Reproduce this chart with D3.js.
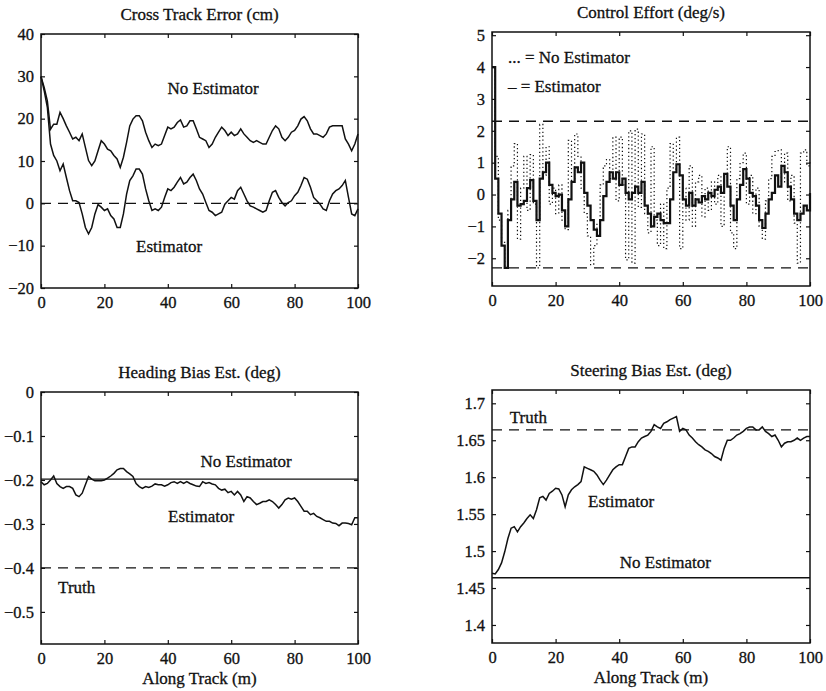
<!DOCTYPE html>
<html>
<head>
<meta charset="utf-8">
<script src="https://cdn.jsdelivr.net/npm/d3@7"></script>
<style>
body { margin: 0; background: #fff; }
svg text { font-family: "Liberation Serif", "Times New Roman", serif !important; fill: #111; stroke: #111; stroke-width: 0.3px; }
.tick text { font-size: 16.5px; }
.tick line { stroke: #111; stroke-width: 1.2; }
</style>
</head>
<body>
<svg id="chart" width="826" height="691"></svg>
<script>
// along track position (m), one sample per metre
var trackPos = [0,1,2,3,4,5,6,7,8,9,10,11,12,13,14,15,16,17,18,19,20,21,22,23,24,25,26,27,28,29,30,31,32,33,34,35,36,37,38,39,40,41,42,43,44,45,46,47,48,49,50,51,52,53,54,55,56,57,58,59,60,61,62,63,64,65,66,67,68,69,70,71,72,73,74,75,76,77,78,79,80,81,82,83,84,85,86,87,88,89,90,91,92,93,94,95,96,97,98,99,100];

// cross track error (cm)
var xteNoEst = [29.9,27.4,24.2,17.5,18.7,18.7,21.5,20,18.3,16.8,15.2,15.6,14.8,16.4,13.2,10.1,8.9,10,12.4,14.8,14,12.8,12.4,11.3,10.5,8.5,10.9,14.4,18.3,19.9,20.7,20.7,19.5,16.8,14.8,13.2,14,13.6,14,16,18,17.6,18,19.1,19.7,18,18.3,19.5,19.5,17.6,15.6,15.2,14.8,13.2,14,15.6,16.8,18,17.2,16,16.8,16,16.4,17.6,16.4,15.6,14.8,14.4,14.8,14.4,14,14,15.6,17.2,18.3,17.6,15.6,14.8,15.6,16.8,17.2,18.3,19.9,20.5,19.5,17.6,16.4,16.4,16,15.6,16.4,18,18.3,18.3,18.3,18.3,15.2,14,12.4,14,16.4];
var xteEst = [30,26.6,22.7,14,11.3,10,7.7,9.3,6.1,3,0.6,0.6,0.2,-2.5,-5.7,-7.2,-5.7,-2.5,-0.3,-0.9,-1.7,-1.3,-2.9,-3.7,-5.7,-5.7,-2.5,2.2,5.4,6.5,8.1,8.1,6.9,3.4,0.6,-1.7,-1.3,-1.7,-0.9,1.4,3.4,3,3.8,5,6.1,4.6,5,6.1,6.9,5.4,3.4,2.2,0.2,-1.7,-2.1,-2.9,-2.5,-2.1,-0.2,0.6,1.4,1,3,3.8,2.2,0.6,-0.6,-0.9,-1.3,-1.7,-2.1,-1.7,0.6,2.6,3,1.4,0.2,-0.6,0.2,0.6,1.8,2.6,4.2,6.1,5.7,3.8,1.4,0.6,-0.2,-1.3,-1.7,0.6,2.2,3,3.4,4.2,5.4,1.4,-2.5,-2.9,-1.3];
var xteRef = 0;

// control effort (deg/s)
var ceNoEst = [4,1.2,-0.8,-1.5,-2.3,-0.5,0.9,1.6,-1.4,0.2,1.2,-0.5,1.25,-0.3,-2.3,2.2,0.6,1.5,-0.3,0.2,-0.6,0.3,-0.8,-1.1,1.7,0.4,1.9,1.2,0.2,-0.6,-1.3,-2.2,-1.6,-0.9,0.3,0.9,1.1,0.5,1.8,-0.2,1.8,0.3,-2.05,2,-2.15,2.05,-0.4,1.9,-0.6,-1.2,1.5,-0.8,-1.6,-0.3,-1.7,0.2,1.6,0.8,1.8,-1.7,0.2,-0.8,0.9,-1,0.4,0.6,-0.7,0.2,-0.5,0.4,-0.3,0.6,-1,0.4,1.5,-1.2,-1.7,0.5,1,1.3,-0.3,0.6,-0.6,0.2,-1,-1.4,-0.2,0.5,1.2,1.35,1.4,0.4,1.3,-0.2,0.6,-0.9,-2.15,1.3,1.4,0.9,1.1];
var ceEst = [4,0.5,-0.6,-1.6,-2.3,-0.8,-0.15,0.4,-0.35,-0.3,-0.2,0.2,0.45,-0.2,-0.8,0.5,0.7,1,0.3,0.05,-0.05,0,-0.5,-1,-0.15,0.4,0.85,0.7,1,0.05,-0.35,-0.8,-1.1,-1.3,-0.8,-0.05,0.4,0.7,0.5,0.7,0.3,0.5,0.05,-0.15,0.05,0.25,0.05,0.4,-0.35,-0.6,-1,-0.7,-0.6,-0.8,-0.9,-0.9,-0.15,0.7,0.95,0.6,-0.15,-0.35,0.05,-0.35,-0.15,-0.25,-0.05,-0.15,0.05,-0.05,0.15,0.25,0.05,0.65,0.25,-0.35,-0.8,-0.15,0.3,0.8,0.5,0.05,-0.05,-0.35,-0.8,-1.05,-0.6,-0.15,0.05,0.6,0.25,0.9,0.7,0.25,-0.15,-0.6,-0.8,-0.6,-0.35,-0.5,0.05];
var ceLimits = [2.3, -2.3];

// heading bias estimate (deg)
var headEst = [-0.204,-0.211,-0.208,-0.2,-0.191,-0.208,-0.215,-0.219,-0.215,-0.215,-0.219,-0.234,-0.238,-0.23,-0.211,-0.192,-0.198,-0.202,-0.202,-0.202,-0.2,-0.196,-0.191,-0.185,-0.177,-0.174,-0.174,-0.181,-0.186,-0.192,-0.208,-0.215,-0.219,-0.215,-0.217,-0.214,-0.209,-0.211,-0.211,-0.214,-0.211,-0.206,-0.204,-0.208,-0.204,-0.208,-0.204,-0.208,-0.211,-0.214,-0.215,-0.204,-0.208,-0.206,-0.209,-0.211,-0.219,-0.223,-0.221,-0.229,-0.226,-0.234,-0.226,-0.234,-0.249,-0.238,-0.241,-0.249,-0.256,-0.253,-0.249,-0.249,-0.245,-0.249,-0.256,-0.264,-0.256,-0.245,-0.241,-0.244,-0.241,-0.249,-0.26,-0.271,-0.271,-0.279,-0.276,-0.283,-0.286,-0.29,-0.294,-0.294,-0.298,-0.299,-0.304,-0.298,-0.298,-0.299,-0.302,-0.286,-0.286];
var headNoEst = -0.198;
var headTruth = -0.4;

// steering bias estimate (deg)
var steerEst = [1.47,1.469,1.475,1.484,1.499,1.517,1.531,1.533,1.526,1.533,1.538,1.544,1.549,1.544,1.556,1.572,1.574,1.569,1.578,1.581,1.585,1.584,1.576,1.56,1.576,1.583,1.587,1.59,1.594,1.614,1.612,1.61,1.608,1.603,1.596,1.59,1.596,1.603,1.61,1.614,1.617,1.617,1.628,1.639,1.641,1.641,1.648,1.653,1.655,1.657,1.662,1.671,1.668,1.666,1.673,1.675,1.678,1.68,1.682,1.662,1.666,1.664,1.657,1.653,1.648,1.644,1.641,1.637,1.635,1.632,1.628,1.626,1.623,1.639,1.65,1.65,1.653,1.657,1.659,1.662,1.666,1.668,1.668,1.664,1.664,1.668,1.662,1.659,1.655,1.657,1.65,1.641,1.646,1.648,1.648,1.65,1.653,1.65,1.653,1.655,1.655];
var steerNoEst = 1.464;
var steerTruth = 1.664;

// tick labels
var xTicks = [0, 20, 40, 60, 80, 100];
var xteTicks = [-20, -10, 0, 10, 20, 30, 40];
var ceTicks = [-2, -1, 0, 1, 2, 3, 4, 5];
var headTicks = [-0.5, -0.4, -0.3, -0.2, -0.1, 0];
var steerTicks = [1.4, 1.45, 1.5, 1.55, 1.6, 1.65, 1.7];

var svg = d3.select("#chart");
var fmt = d3.format("~g");

function drawPanel(p) {
    var x = d3.scaleLinear().domain([0, 100]).range([p.left, p.right]);
    var y = d3.scaleLinear().domain(p.yDomain).range([p.bottom, p.top]);
    var g = svg.append("g");

    // inward ticks on all four sides, like the matlab box
    g.append("g").attr("transform", "translate(0," + p.bottom + ")")
        .call(d3.axisBottom(x).tickValues(xTicks).tickSize(-4).tickSizeOuter(0).tickPadding(8).tickFormat(fmt));
    g.append("g").attr("transform", "translate(0," + p.top + ")")
        .call(d3.axisTop(x).tickValues(xTicks).tickSize(-4).tickSizeOuter(0).tickFormat(""));
    g.append("g").attr("transform", "translate(" + p.left + ",0)")
        .call(d3.axisLeft(y).tickValues(p.yTicks).tickSize(-4).tickSizeOuter(0).tickPadding(7).tickFormat(fmt));
    g.append("g").attr("transform", "translate(" + p.right + ",0)")
        .call(d3.axisRight(y).tickValues(p.yTicks).tickSize(-4).tickSizeOuter(0).tickFormat(""));
    g.selectAll(".domain").remove();

    g.append("rect")
        .attr("x", p.left).attr("y", p.top)
        .attr("width", p.right - p.left).attr("height", p.bottom - p.top)
        .attr("fill", "none").attr("stroke", "#111").attr("stroke-width", 1.5);

    p.refs.forEach(function(r) {
        g.append("line")
            .attr("x1", x(0)).attr("x2", x(100))
            .attr("y1", y(r.value)).attr("y2", y(r.value))
            .attr("stroke", "#111").attr("stroke-width", 1.4)
            .attr("stroke-dasharray", r.dashed ? "10,7" : null);
    });

    p.series.forEach(function(s) {
        var line = d3.line()
            .x(function(d, i) { return x(trackPos[i]); })
            .y(function(d) { return y(d); })
            .curve(s.step ? d3.curveStepAfter : d3.curveLinear);
        g.append("path")
            .datum(s.values)
            .attr("d", line)
            .attr("fill", "none")
            .attr("stroke", "#111")
            .attr("stroke-width", s.width || 1.5)
            .attr("stroke-dasharray", s.dotted ? "1.3,2.6" : null);
    });

    g.append("text")
        .attr("x", (p.left + p.right) / 2).attr("y", p.top - 14)
        .attr("text-anchor", "middle").attr("font-size", 17)
        .text(p.title);

    p.labels.forEach(function(l) {
        g.append("text")
            .attr("x", x(l.at[0])).attr("y", y(l.at[1]))
            .attr("text-anchor", l.anchor || "middle")
            .attr("font-size", 17)
            .text(l.text);
    });

    if (p.xLabel) {
        g.append("text")
            .attr("x", (p.left + p.right) / 2).attr("y", p.bottom + 40)
            .attr("text-anchor", "middle").attr("font-size", 17)
            .text(p.xLabel);
    }
}

drawPanel({
    title: "Cross Track Error (cm)",
    left: 41, right: 358, top: 34, bottom: 288,
    yDomain: [-20, 40], yTicks: xteTicks,
    refs: [{ value: xteRef, dashed: true }],
    series: [{ values: xteNoEst }, { values: xteEst }],
    labels: [{ text: "No Estimator", at: [54.3, 25.8] }, { text: "Estimator", at: [40.4, -11.5] }]
});

drawPanel({
    title: "Control Effort (deg/s)",
    left: 492, right: 810, top: 32, bottom: 286,
    yDomain: [-2.87, 5.1], yTicks: ceTicks,
    refs: [{ value: ceLimits[0], dashed: true }, { value: ceLimits[1], dashed: true }],
    series: [{ values: ceNoEst, step: true, dotted: true, width: 1.2 }, { values: ceEst, step: true, width: 2.2 }],
    labels: [{ text: "...  = No Estimator", at: [5, 4.13], anchor: "start" }, { text: "–  = Estimator", at: [5, 3.22], anchor: "start" }]
});

drawPanel({
    title: "Heading Bias Est. (deg)",
    left: 41, right: 358, top: 392, bottom: 644,
    yDomain: [-0.573, 0], yTicks: headTicks,
    refs: [{ value: headNoEst, dashed: false }, { value: headTruth, dashed: true }],
    series: [{ values: headEst }],
    labels: [{ text: "No Estimator", at: [64.7, -0.17] }, { text: "Estimator", at: [50.5, -0.295] }, { text: "Truth", at: [5.4, -0.457], anchor: "start" }],
    xLabel: "Along Track (m)"
});

drawPanel({
    title: "Steering Bias Est. (deg)",
    left: 492, right: 810, top: 390, bottom: 643,
    yDomain: [1.3756, 1.718], yTicks: steerTicks,
    refs: [{ value: steerNoEst, dashed: false }, { value: steerTruth, dashed: true }],
    series: [{ values: steerEst }],
    labels: [{ text: "Truth", at: [5.6, 1.6733], anchor: "start" }, { text: "Estimator", at: [30.2, 1.56], anchor: "start" }, { text: "No Estimator", at: [40.2, 1.4771], anchor: "start" }],
    xLabel: "Along Track (m)"
});
</script>
</body>
</html>
